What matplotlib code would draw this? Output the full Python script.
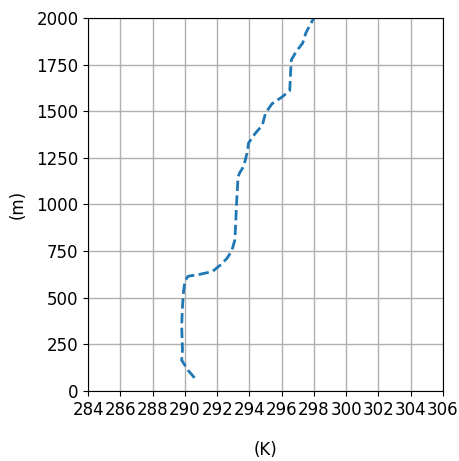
import matplotlib
matplotlib.use("Agg")
import matplotlib.pyplot as plt

temperature_K = [290.6, 290.2, 289.8, 289.85, 289.8, 289.85, 289.9, 290.0, 290.2,
                 290.9, 291.7, 292.2, 292.6, 292.9, 293.1, 293.15, 293.2, 293.3,
                 293.4, 293.65, 293.85, 293.95, 294.35, 294.8, 295.0, 295.4,
                 296.0, 296.5, 296.55, 296.6, 296.9, 297.3, 297.5, 297.9, 298.0]
height_m = [70, 110, 165, 220, 350, 450, 520, 590, 615,
            625, 640, 675, 710, 750, 810, 900, 1000, 1150,
            1170, 1205, 1275, 1330, 1380, 1425, 1490, 1540,
            1575, 1610, 1700, 1775, 1820, 1865, 1920, 1985, 2000]

xticks = list(range(284, 307, 2))
yticks = list(range(0, 2001, 250))

plt.rcParams['font.family'] = ['DejaVu Sans']

fig = plt.figure(figsize=(4.59, 4.61), dpi=100)
ax = fig.add_axes([0.192, 0.152, 0.773, 0.809])
ax.plot(temperature_K, height_m, linestyle="--", linewidth=2, color="C0")
ax.set_xlim(284, 306)
ax.set_ylim(0, 2000)
ax.set_xticks(xticks)
ax.set_yticks(yticks)
ax.tick_params(labelsize=12)
ax.grid(True, color="#b0b0b0", linewidth=1)
ax.set_xlabel("(K)", fontsize=12, labelpad=16)
ax.set_ylabel("(m)", fontsize=12, labelpad=7)
fig.savefig("out.png", dpi=100)
